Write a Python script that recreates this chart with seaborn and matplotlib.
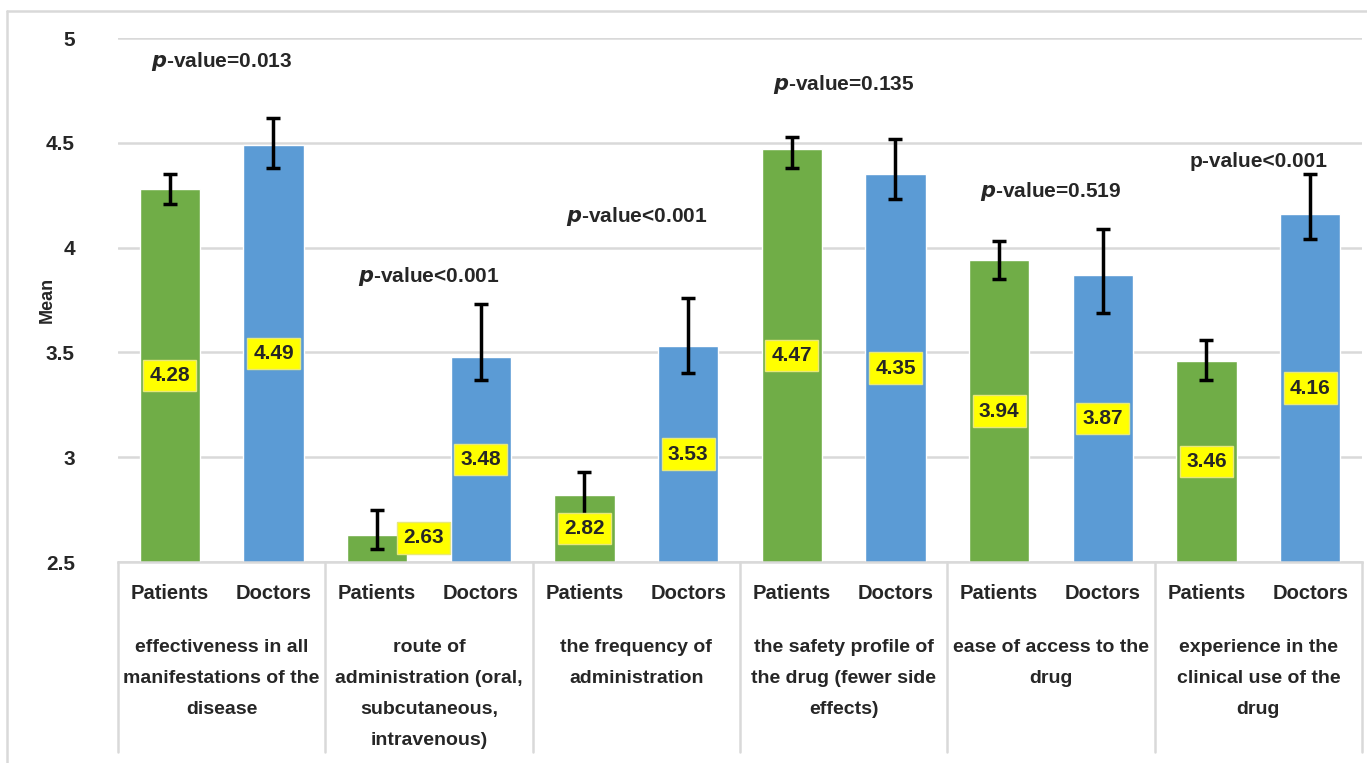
import matplotlib
matplotlib.use("Agg")
import matplotlib.pyplot as plt
import seaborn as sns
import pandas as pd
from matplotlib.lines import Line2D

# data
factors = [
    "effectiveness in all\nmanifestations of the\ndisease",
    "route of\nadministration (oral,\nsubcutaneous,\nintravenous)",
    "the frequency of\nadministration",
    "the safety profile of\nthe drug (fewer side\neffects)",
    "ease of access to the\ndrug",
    "experience in the\nclinical use of the\ndrug",
]
roles = ["Patients", "Doctors"]
patients = [4.28, 2.63, 2.82, 4.47, 3.94, 3.46]
doctors = [4.49, 3.48, 3.53, 4.35, 3.87, 4.16]
patients_lo = [4.21, 2.56, 2.71, 4.38, 3.85, 3.37]
patients_hi = [4.35, 2.75, 2.93, 4.53, 4.03, 3.56]
doctors_lo = [4.38, 3.37, 3.40, 4.23, 3.69, 4.04]
doctors_hi = [4.62, 3.73, 3.76, 4.52, 4.09, 4.35]
p_texts = ["=0.013", "<0.001", "<0.001", "=0.135", "=0.519", "<0.001"]
p_italic = [True, True, True, True, True, False]

# where the p-value notes sit (y in data units)
p_ypos = [4.89, 3.86, 4.15, 4.78, 4.27, 4.41]

green = "#70AD47"
blue = "#5B9BD5"
grid_col = "#D9D9D9"

rows = []
for i in range(len(factors)):
    rows.append({"slot": f"{i}P", "role": "Patients", "mean": patients[i],
                 "lo": patients_lo[i], "hi": patients_hi[i]})
    rows.append({"slot": f"{i}D", "role": "Doctors", "mean": doctors[i],
                 "lo": doctors_lo[i], "hi": doctors_hi[i]})
df = pd.DataFrame(rows)
slots = list(df["slot"])

sns.set_style("white")
plt.rcParams["font.family"] = ["Liberation Sans", "DejaVu Sans"]

fig = plt.figure(figsize=(13.67, 7.63), dpi=100)
ax = fig.add_axes([118 / 1367, 1 - 562 / 763, (1362 - 118) / 1367, (562 - 38) / 763])

sns.barplot(data=df, x="slot", y="mean", hue="role", order=slots,
            palette={"Patients": green, "Doctors": blue}, dodge=False,
            saturation=1, width=0.58, legend=False, ax=ax, zorder=2)

ax.set_ylim(2.5, 5)
ax.set_xlim(-0.5, len(slots) - 0.5)
ax.set_yticks([2.5, 3, 3.5, 4, 4.5, 5])
ax.set_yticklabels(["2.5", "3", "3.5", "4", "4.5", "5"], fontsize=15, fontweight="bold")
ax.yaxis.grid(True, color=grid_col, linewidth=1.8, zorder=0)
ax.set_axisbelow(True)
for s in ["top", "right", "left"]:
    ax.spines[s].set_visible(False)
ax.spines["bottom"].set_color(grid_col)
ax.spines["bottom"].set_linewidth(1.8)
ax.tick_params(axis="x", length=0, pad=16)
ax.tick_params(axis="y", length=0, pad=31)

ax.set_xticks(range(len(slots)))
ax.set_xticklabels(list(df["role"]), fontsize=14.5, fontweight="bold")
ax.set_xlabel("")
ax.set_ylabel("Mean", fontsize=13, fontweight="bold")
ax.yaxis.set_label_coords(-62 / 1244, 0.5)

# error bars
yerr = [df["mean"] - df["lo"], df["hi"] - df["mean"]]
ax.errorbar(range(len(slots)), df["mean"], yerr=yerr, fmt="none",
            ecolor="black", elinewidth=2.5, capsize=5, capthick=2.5, zorder=3)

# value labels in yellow boxes
for k, row in df.iterrows():
    x = k
    y = (2.5 + row["mean"]) / 2
    if row["mean"] < 2.7:
        x = k + 0.45
        y = 2.615
    ax.text(x, y, f"{row['mean']:.2f}", ha="center", va="center",
            fontsize=15, fontweight="bold", zorder=5,
            bbox=dict(boxstyle="square,pad=0.3", facecolor="#FFFF00",
                      edgecolor="#E8E87A", linewidth=1))

# p-values
for i in range(len(factors)):
    cx = 2 * i + 0.5
    if p_italic[i]:
        txt = r"$\mathbfit{p}$" + "-value" + p_texts[i]
    else:
        txt = "p-value" + p_texts[i]
    ax.text(cx, p_ypos[i], txt, ha="center", va="center", fontsize=15, fontweight="bold")

# group labels and separators below the axis
trans = ax.get_xaxis_transform()
for i in range(len(factors)):
    ax.text(2 * i + 0.5, -0.146, factors[i], transform=trans, ha="center", va="top",
            fontsize=14, fontweight="bold", linespacing=2.1)
for b in range(len(factors) + 1):
    xb = 2 * b - 0.5
    ax.add_line(Line2D([xb, xb], [0, -0.363], transform=trans, color=grid_col,
                       linewidth=1.8, clip_on=False))

# outer chart frame
fig.add_artist(Line2D([7 / 1367, 7 / 1367], [0, 1 - 11 / 763], color=grid_col, linewidth=1.8))
fig.add_artist(Line2D([7 / 1367, 1], [1 - 11 / 763, 1 - 11 / 763], color=grid_col, linewidth=1.8))

fig.savefig("out.png", dpi=100)
